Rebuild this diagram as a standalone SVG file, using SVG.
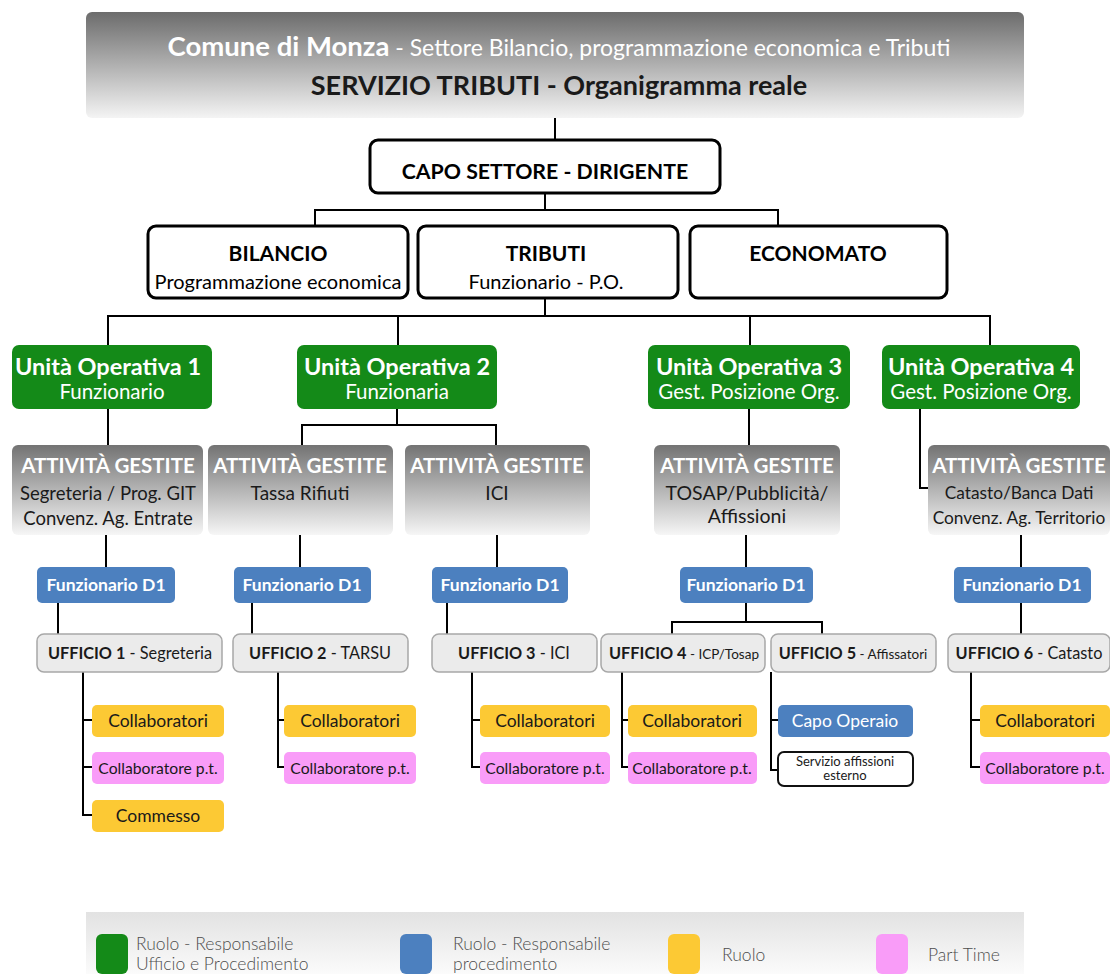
<svg xmlns="http://www.w3.org/2000/svg" width="1110" height="974" viewBox="0 0 1110 974">
<defs>
<linearGradient id="gHead" x1="0" y1="0" x2="0" y2="1"><stop offset="0" stop-color="#6c6c6c"/><stop offset="1" stop-color="#f4f4f4"/></linearGradient>
<linearGradient id="gAtt" x1="0" y1="0" x2="0" y2="1"><stop offset="0" stop-color="#737373"/><stop offset="1" stop-color="#f6f6f6"/></linearGradient>
<linearGradient id="gLeg" x1="0" y1="0" x2="0" y2="1"><stop offset="0" stop-color="#e2e2e2"/><stop offset="1" stop-color="#fbfbfb"/></linearGradient>
<style>
text{font-family:Lato,"Open Sans","Liberation Sans",sans-serif;text-anchor:middle}
.b{font-weight:bold}
.wbox{fill:#fff;stroke:#000;stroke-width:3}
.green{fill:#148a18}
.blue{fill:#4c80bf}
.yel{fill:#fcc934}
.pink{fill:#f99cf8}
.uff{fill:#ebebeb;stroke:#a8a8a8;stroke-width:1.5}
.att{fill:url(#gAtt)}
.wt{fill:#fff}
.dk{fill:#1a1a1a}
.lg{fill:#4e4e4e;text-anchor:start;font-size:17.5px;font-weight:300}
.conn{fill:none;stroke:#000;stroke-width:2}
</style>
</defs>
<rect width="1110" height="974" fill="#fff"/>

<g id="header">
<rect x="86" y="12" width="938" height="106" rx="6" fill="url(#gHead)"/>
<text x="559" y="56" font-size="23" class="wt"><tspan class="b" font-size="27.5">Comune di Monza</tspan> - Settore Bilancio, programmazione economica e Tributi</text>
<text x="559" y="95" font-size="27" class="b dk">SERVIZIO TRIBUTI - Organigramma reale</text>
</g>

<g id="connectors" class="conn">
<path d="M555 118V140"/>
<path d="M545 193V210M315 226V210H778V226"/>
<path d="M545 298V316M108 345V316H990V345M398 316V345M750 316V345"/>
<path d="M108 409V445"/>
<path d="M397 409V425M302 445V425H496V445"/>
<path d="M749 409V445"/>
<path d="M920 409V488H928"/>
<path d="M106 535V567M300 535V567M497 535V567M746 535V567M1021 535V567"/>
<path d="M58 603V634M252 603V634M447 603V634"/>
<path d="M746 603V622M672 634V622H822V634"/>
<path d="M1021 603V634"/>
<path d="M83 672V815H92M83 720H92M83 767H92"/>
<path d="M278 672V767H284M278 720H284"/>
<path d="M472 672V767H480M472 720H480"/>
<path d="M622 672V767H628M622 720H628"/>
<path d="M771 672V770H778M771 720H778"/>
<path d="M971 672V767H980M971 720H980"/>
</g>

<g id="capo"><rect x="370" y="140" width="350" height="53" rx="8" class="wbox"/><text x="545" y="179" font-size="21.3" class="b">CAPO SETTORE - DIRIGENTE</text></g>
<g id="bilancio"><rect x="148" y="226" width="260" height="72" rx="8" class="wbox"/><text x="278" y="261" font-size="21" class="b">BILANCIO</text><text x="278" y="289" font-size="20">Programmazione economica</text></g>
<g id="tributi"><rect x="418" y="226" width="260" height="72" rx="8" class="wbox"/><text x="546" y="261" font-size="21" class="b">TRIBUTI</text><text x="546" y="289" font-size="20">Funzionario - P.O.</text></g>
<g id="economato"><rect x="690" y="226" width="257" height="72" rx="8" class="wbox"/><text x="818" y="261" font-size="21" class="b">ECONOMATO</text></g>

<g id="uo1"><rect x="12" y="345" width="200" height="64" rx="7" class="green"/><text x="108" y="375" font-size="23.5" class="b wt">Unità Operativa 1</text><text x="112" y="399" font-size="20.5" class="wt">Funzionario</text></g>
<g id="uo2"><rect x="297" y="345" width="200" height="64" rx="7" class="green"/><text x="397" y="375" font-size="23.5" class="b wt">Unità Operativa 2</text><text x="397" y="399" font-size="20.5" class="wt">Funzionaria</text></g>
<g id="uo3"><rect x="648" y="345" width="202" height="64" rx="7" class="green"/><text x="749" y="375" font-size="23.5" class="b wt">Unità Operativa 3</text><text x="749" y="399" font-size="20.5" class="wt">Gest. Posizione Org.</text></g>
<g id="uo4"><rect x="882" y="345" width="198" height="64" rx="7" class="green"/><text x="981" y="375" font-size="23.5" class="b wt">Unità Operativa 4</text><text x="981" y="399" font-size="20.5" class="wt">Gest. Posizione Org.</text></g>

<g id="att1"><rect x="12" y="445" width="191" height="90" rx="6" class="att"/><text x="108" y="473" font-size="20.5" class="b wt">ATTIVITÀ GESTITE</text><text x="108" y="500" font-size="18.5" class="dk">Segreteria / Prog. GIT</text><text x="108" y="525" font-size="18.5" class="dk">Convenz. Ag. Entrate</text></g>
<g id="att2"><rect x="208" y="445" width="185" height="90" rx="6" class="att"/><text x="300" y="473" font-size="20.5" class="b wt">ATTIVITÀ GESTITE</text><text x="300" y="500" font-size="19" class="dk">Tassa Rifiuti</text></g>
<g id="att3"><rect x="405" y="445" width="185" height="90" rx="6" class="att"/><text x="497" y="473" font-size="20.5" class="b wt">ATTIVITÀ GESTITE</text><text x="497" y="500" font-size="19" class="dk">ICI</text></g>
<g id="att4"><rect x="654" y="445" width="186" height="90" rx="6" class="att"/><text x="747" y="473" font-size="20.5" class="b wt">ATTIVITÀ GESTITE</text><text x="747" y="500" font-size="19.5" class="dk">TOSAP/Pubblicità/</text><text x="747" y="523" font-size="19.5" class="dk">Affissioni</text></g>
<g id="att5"><rect x="928" y="445" width="182" height="90" rx="6" class="att"/><text x="1019" y="473" font-size="20.5" class="b wt">ATTIVITÀ GESTITE</text><text x="1019" y="499" font-size="17.3" class="dk">Catasto/Banca Dati</text><text x="1019" y="524" font-size="17.3" class="dk">Convenz. Ag. Territorio</text></g>

<g id="fd1"><rect x="37" y="567" width="138" height="36" rx="5" class="blue"/><text x="106" y="591" font-size="17.5" class="b wt">Funzionario D1</text></g>
<g id="fd2"><rect x="234" y="567" width="137" height="36" rx="5" class="blue"/><text x="302" y="591" font-size="17.5" class="b wt">Funzionario D1</text></g>
<g id="fd3"><rect x="432" y="567" width="136" height="36" rx="5" class="blue"/><text x="500" y="591" font-size="17.5" class="b wt">Funzionario D1</text></g>
<g id="fd4"><rect x="680" y="567" width="133" height="36" rx="5" class="blue"/><text x="746" y="591" font-size="17.5" class="b wt">Funzionario D1</text></g>
<g id="fd5"><rect x="954" y="567" width="137" height="36" rx="5" class="blue"/><text x="1022" y="591" font-size="17.5" class="b wt">Funzionario D1</text></g>

<g id="uff1"><rect x="37" y="634" width="185" height="38" rx="7" class="uff"/><text x="130" y="659" font-size="16.3" class="dk"><tspan class="b">UFFICIO 1</tspan> - Segreteria</text></g>
<g id="uff2"><rect x="233" y="634" width="175" height="38" rx="7" class="uff"/><text x="320" y="659" font-size="16.3" class="dk"><tspan class="b">UFFICIO 2</tspan> - TARSU</text></g>
<g id="uff3"><rect x="432" y="634" width="165" height="38" rx="7" class="uff"/><text x="514" y="659" font-size="16.3" class="dk"><tspan class="b">UFFICIO 3</tspan> - ICI</text></g>
<g id="uff4"><rect x="601" y="634" width="164" height="38" rx="7" class="uff"/><text x="684" y="659" font-size="16.3" class="dk"><tspan class="b">UFFICIO 4</tspan><tspan font-size="13.5"> - ICP/Tosap</tspan></text></g>
<g id="uff5"><rect x="771" y="634" width="165" height="38" rx="7" class="uff"/><text x="853" y="659" font-size="16.3" class="dk"><tspan class="b">UFFICIO 5</tspan><tspan font-size="13.5"> - Affissatori</tspan></text></g>
<g id="uff6"><rect x="948" y="634" width="162" height="38" rx="7" class="uff"/><text x="1029" y="659" font-size="16.3" class="dk"><tspan class="b">UFFICIO 6</tspan> - Catasto</text></g>

<g id="col1"><rect x="92" y="705" width="132" height="32" rx="5" class="yel"/><text x="158" y="727" font-size="17.5" class="dk">Collaboratori</text></g>
<g id="colpt1"><rect x="92" y="752" width="132" height="32" rx="5" class="pink"/><text x="158" y="774" font-size="15.7" class="dk">Collaboratore p.t.</text></g>
<g id="commesso"><rect x="92" y="800" width="132" height="32" rx="5" class="yel"/><text x="158" y="822" font-size="17.5" class="dk">Commesso</text></g>
<g id="col2"><rect x="284" y="705" width="132" height="32" rx="5" class="yel"/><text x="350" y="727" font-size="17.5" class="dk">Collaboratori</text></g>
<g id="colpt2"><rect x="284" y="752" width="132" height="32" rx="5" class="pink"/><text x="350" y="774" font-size="15.7" class="dk">Collaboratore p.t.</text></g>
<g id="col3"><rect x="480" y="705" width="130" height="32" rx="5" class="yel"/><text x="545" y="727" font-size="17.5" class="dk">Collaboratori</text></g>
<g id="colpt3"><rect x="480" y="752" width="130" height="32" rx="5" class="pink"/><text x="545" y="774" font-size="15.7" class="dk">Collaboratore p.t.</text></g>
<g id="col4"><rect x="628" y="705" width="129" height="32" rx="5" class="yel"/><text x="692" y="727" font-size="17.5" class="dk">Collaboratori</text></g>
<g id="colpt4"><rect x="628" y="752" width="129" height="32" rx="5" class="pink"/><text x="692" y="774" font-size="15.7" class="dk">Collaboratore p.t.</text></g>
<g id="capooperaio"><rect x="778" y="705" width="135" height="32" rx="5" class="blue"/><text x="845" y="727" font-size="17.5" class="wt">Capo Operaio</text></g>
<g id="servizio"><rect x="778" y="752" width="135" height="34" rx="6" fill="#fff" stroke="#111" stroke-width="2"/><text x="845" y="766" font-size="13" class="dk">Servizio affissioni</text><text x="845" y="780" font-size="13" class="dk">esterno</text></g>
<g id="col6"><rect x="980" y="705" width="130" height="32" rx="5" class="yel"/><text x="1045" y="727" font-size="17.5" class="dk">Collaboratori</text></g>
<g id="colpt6"><rect x="980" y="752" width="130" height="32" rx="5" class="pink"/><text x="1045" y="774" font-size="15.7" class="dk">Collaboratore p.t.</text></g>

<g id="legend">
<rect x="86" y="912" width="938" height="62" fill="url(#gLeg)"/>
<rect x="96" y="934" width="32" height="40" rx="6" class="green"/>
<text x="136" y="950" class="lg">Ruolo - Responsabile</text><text x="136" y="970" class="lg">Ufficio e Procedimento</text>
<rect x="400" y="934" width="32" height="40" rx="6" class="blue"/>
<text x="453" y="950" class="lg">Ruolo - Responsabile</text><text x="453" y="970" class="lg">procedimento</text>
<rect x="668" y="934" width="32" height="40" rx="6" class="yel"/>
<text x="722" y="961" class="lg">Ruolo</text>
<rect x="876" y="934" width="32" height="40" rx="6" class="pink"/>
<text x="928" y="961" class="lg">Part Time</text>
</g>
</svg>
